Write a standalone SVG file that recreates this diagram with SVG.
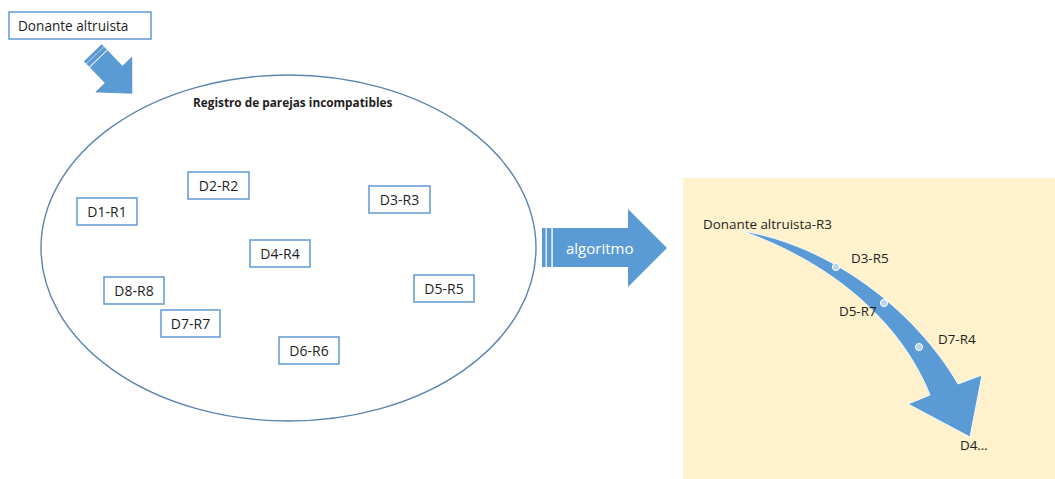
<svg xmlns="http://www.w3.org/2000/svg" width="1055" height="479" viewBox="0 0 1055 479">
  <style>
    .txt { font-family: "Open Sans", "Liberation Sans", sans-serif; fill: #1e1e1e; }
    .lbl { font-size: 14px; text-anchor: middle; }
    .pair { fill: #ffffff; stroke: #6a9fd6; stroke-width: 1.6; }
    .blue { fill: #5b9bd5; }
    .dot { fill: #bcd4ee; stroke: #ffffff; stroke-width: 1; }
  </style>

  <rect x="0" y="0" width="1055" height="479" fill="#ffffff"/>

  <!-- incoming donor -->
  <g id="donante">
    <rect class="pair" x="9" y="12" width="142" height="27"/>
    <text class="txt" x="18" y="31" font-size="13.6">Donante altruista</text>
  </g>

  <!-- register of incompatible pairs -->
  <g id="registro">
    <ellipse cx="288.5" cy="248" rx="247.5" ry="173" fill="#ffffff" stroke="#5b84b1" stroke-width="1.4"/>
    <text class="txt" x="193" y="107" font-size="11.8" font-weight="bold">Registro de parejas incompatibles</text>
  </g>

  <g id="d1r1"><rect class="pair" x="77" y="198" width="60" height="27"/><text class="txt lbl" x="107" y="216.5">D1-R1</text></g>
  <g id="d2r2"><rect class="pair" x="188" y="172" width="61" height="27"/><text class="txt lbl" x="218.5" y="190.5">D2-R2</text></g>
  <g id="d3r3"><rect class="pair" x="369" y="186" width="61" height="27"/><text class="txt lbl" x="399.5" y="204.5">D3-R3</text></g>
  <g id="d4r4"><rect class="pair" x="250" y="240" width="60" height="27"/><text class="txt lbl" x="280" y="258.5">D4-R4</text></g>
  <g id="d5r5"><rect class="pair" x="414" y="275" width="60" height="27"/><text class="txt lbl" x="444" y="293.5">D5-R5</text></g>
  <g id="d6r6"><rect class="pair" x="279" y="337" width="60" height="27"/><text class="txt lbl" x="309" y="355.5">D6-R6</text></g>
  <g id="d7r7"><rect class="pair" x="161" y="310" width="59" height="27"/><text class="txt lbl" x="190.5" y="328.5">D7-R7</text></g>
  <g id="d8r8"><rect class="pair" x="104" y="277" width="60" height="27"/><text class="txt lbl" x="134" y="295.5">D8-R8</text></g>

  <!-- result panel background -->
  <g id="panel">
    <rect x="683" y="178" width="372" height="301" fill="#fff2cc"/>
  </g>

  <g id="connectors">
    <!-- striped arrow from the donor into the register -->
    <g transform="translate(93,53) rotate(46)">
      <rect class="blue" x="0" y="-12" width="2.6" height="24" stroke="#4a86c0" stroke-width="0.6"/>
      <rect class="blue" x="3.6" y="-12" width="3.4" height="24" stroke="#4a86c0" stroke-width="0.6"/>
      <path class="blue" d="M8.5 -12 H30 V-25 L56 0 L30 25 V12 H8.5 Z" stroke="#4a86c0" stroke-width="0.6"/>
    </g>

    <!-- striped "algoritmo" arrow -->
    <g id="algoritmo">
      <rect class="blue" x="542" y="228" width="3.6" height="39"/>
      <rect class="blue" x="546.8" y="228" width="4.6" height="39"/>
      <path class="blue" d="M552.8 228 H628 V209 L667 248 L628 287 V267 H552.8 Z"/>
      <text x="566" y="254" font-family="Open Sans, Liberation Sans, sans-serif" font-size="15" fill="#ffffff">algoritmo</text>
    </g>

    <!-- curved chain arrow -->
    <path class="blue" stroke="#f4f8fc" stroke-width="1"
          d="M742 231 C830 245 915 310 958 384 L982 375 L970 437 L908 404 L930 395 C900 320 830 262 742 231 Z"/>
    <circle class="dot" cx="836" cy="267" r="3.6"/>
    <circle class="dot" cx="884" cy="303" r="3.6"/>
    <circle class="dot" cx="919" cy="347" r="3.6"/>
  </g>

  <!-- chain labels, drawn over the arrow -->
  <g id="cadena">
    <text class="txt" x="703" y="229" font-size="13.4">Donante altruista-R3</text>
    <text class="txt" x="851" y="263" font-size="13.4">D3-R5</text>
    <text class="txt" x="839" y="316" font-size="13.4">D5-R7</text>
    <text class="txt" x="938" y="344" font-size="13.4">D7-R4</text>
    <text class="txt" x="960" y="450" font-size="13.4">D4…</text>
  </g>
</svg>
